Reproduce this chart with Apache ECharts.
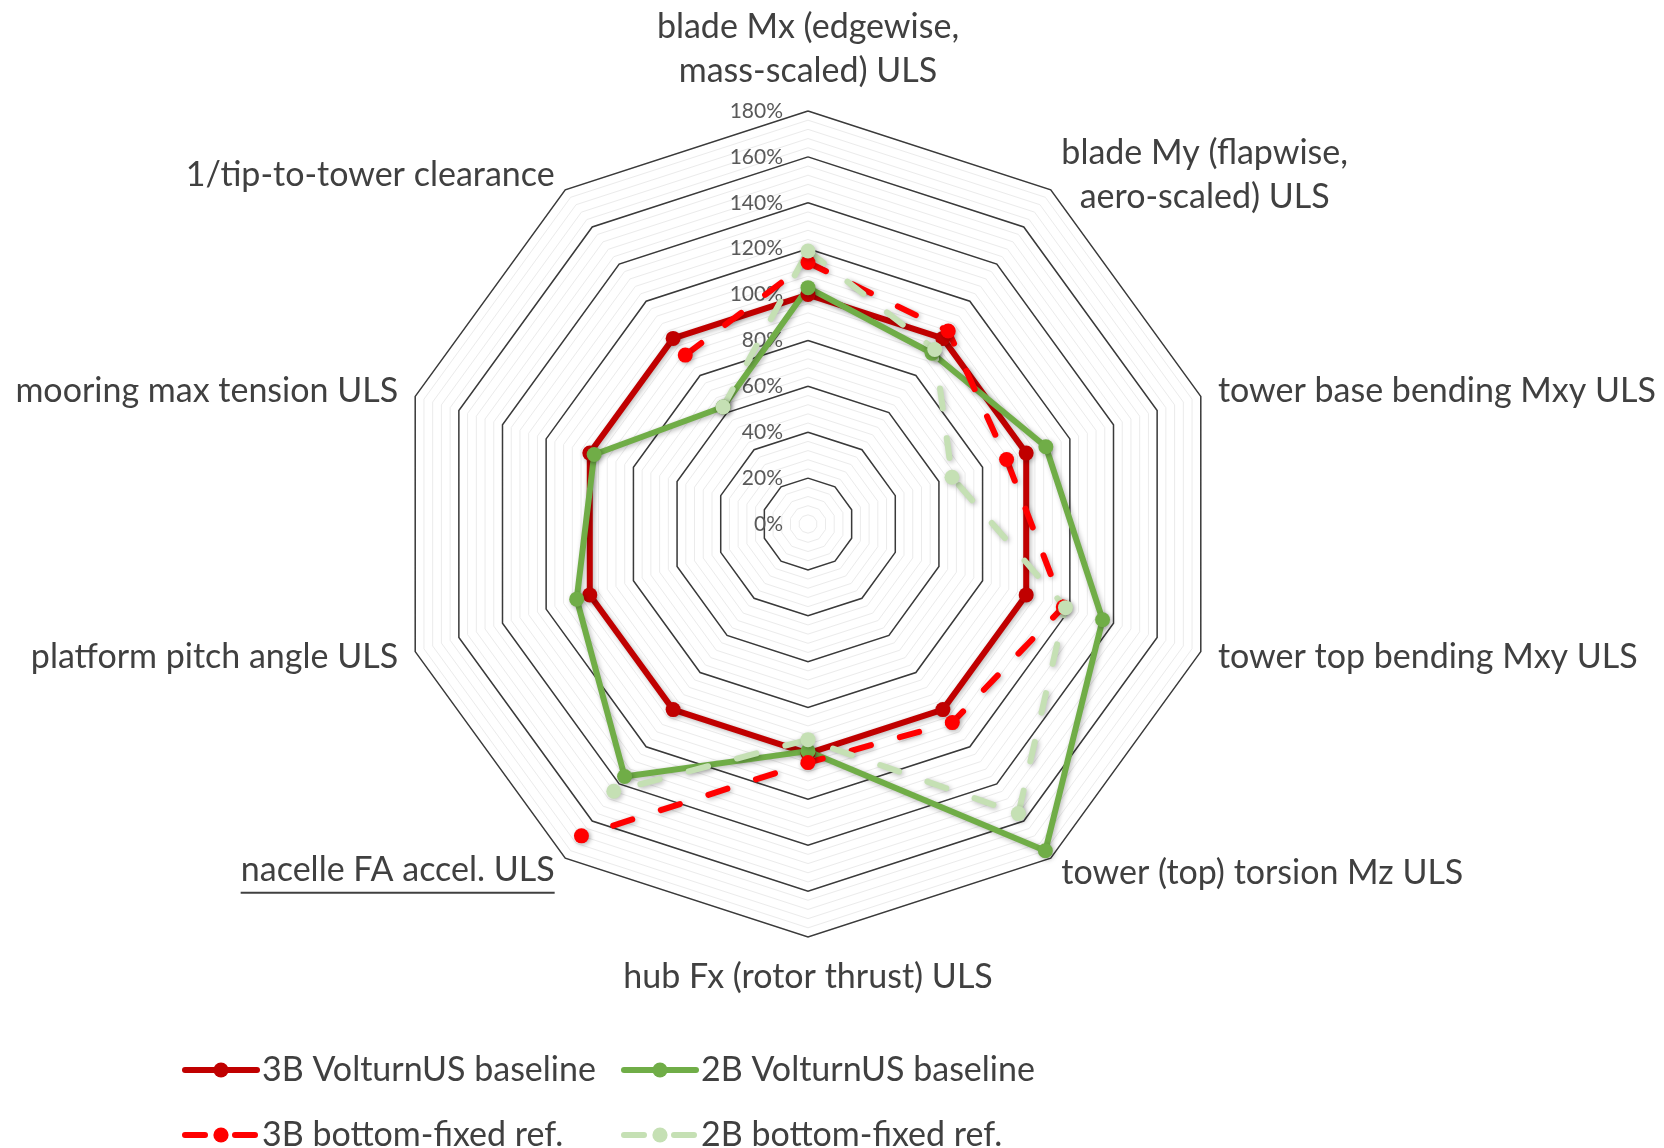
<!DOCTYPE html>
<html>
<head>
<meta charset="utf-8">
<script src="https://cdn.jsdelivr.net/npm/echarts@6/dist/echarts.min.js"></script>
<style>
  html, body { margin: 0; padding: 0; background: #ffffff; }
  #chart { width: 1664px; height: 1148px; }
</style>
</head>
<body>
<div id="chart"></div>
<script>
// Load cases, clockwise from the top of the web
const categories = [
  'blade Mx (edgewise,\nmass-scaled) ULS',
  'blade My (flapwise,\naero-scaled) ULS',
  'tower base bending Mxy ULS',
  'tower top bending Mxy ULS',
  'tower (top) torsion Mz ULS',
  'hub Fx (rotor thrust) ULS',
  'nacelle FA accel. ULS',
  'platform pitch angle ULS',
  'mooring max tension ULS',
  '1/tip-to-tower clearance'
];
const underlinedCategory = 'nacelle FA accel. ULS';

// Radial scale (percent of the 3B floating baseline)
const radialMin = 0;
const radialMax = 180;
const radialStep = 20;
const minorStep = 4;

// Series values in percent; null = not applicable (no floater)
const seriesNames = ['3B VolturnUS baseline', '2B VolturnUS baseline', '3B bottom-fixed ref.', '2B bottom-fixed ref.'];
const base3B  = [100, 100, 100, 100, 100, 100, 100, 100, 100, 100];
const base2B  = [103,  92, 109, 135, 176,  99, 136, 106,  98,  63];
const fixed3B = [114, 104,  91, 117, 107, 104, 168, null, null, 91];
const fixed2B = [119,  94,  66, 118, 156,  94, 144, null, null, 63];

const FONT = 'Lato';
const TEXT = '#404040';
const CX = 808, CY = 524, R = 413;

// radar indicators run counter-clockwise, so feed them in reverse after the first
const n = categories.length;
const order = [0].concat(Array.from({ length: n - 1 }, (_, k) => n - 1 - k));

// width of the underlined label, for the underline bar
const ctx = document.createElement('canvas').getContext('2d');
ctx.font = '34px ' + FONT;
const underlineWidth = Math.round(ctx.measureText(underlinedCategory).width);

function nameFormatter(name) {
  if (name === underlinedCategory) return '{t|' + name + '}\n{ul|}';
  return name.split('\n').map(s => '{c|' + s + '}').join('\n');
}

// polar points [radius, angleIndex]; the loop closes back on the first point
function ring(values) {
  const pts = values.map((v, i) => [v == null ? '-' : v, i]);
  if (values[0] != null) pts.push({ value: [values[0], n], symbol: 'none' });
  return pts;
}

const shadow = { shadowColor: 'rgba(0,0,0,0.28)', shadowBlur: 5, shadowOffsetX: 1.5, shadowOffsetY: 1.5 };
const DASH = [20, 30];

function lineSeries(name, values, color, dashed) {
  return {
    name: name,
    type: 'line',
    coordinateSystem: 'polar',
    data: ring(values),
    symbol: 'circle',
    symbolSize: 15,
    showAllSymbol: true,
    connectNulls: false,
    smooth: false,
    clip: false,
    lineStyle: Object.assign({ color: color, width: 6, cap: 'round', type: dashed ? DASH : 'solid' }, shadow),
    itemStyle: Object.assign({ color: color }, shadow),
    emphasis: { disabled: true }
  };
}

// one legend block per entry, laid out as a 2 x 2 grid
const legendCols = [182, 621];
const legendRows = [1053, 1118];
const legendGrid = [[seriesNames[0], seriesNames[1]], [seriesNames[2], seriesNames[3]]];
const legends = [];
legendGrid.forEach((row, r) => row.forEach((name, c) => {
  const dashed = r === 1;
  legends.push({
    orient: 'horizontal', left: legendCols[c], top: legendRows[r],
    itemWidth: 72, itemHeight: 19, padding: 0,
    data: [name],
    lineStyle: { width: 6, cap: 'round', type: dashed ? DASH : 'solid' },
    textStyle: { fontSize: 34, color: TEXT, fontFamily: FONT },
    selectedMode: false
  });
}));

const chart = echarts.init(document.getElementById('chart'), null, { renderer: 'canvas' });

const option = {
  animation: false,
  backgroundColor: '#ffffff',
  textStyle: { fontFamily: FONT },
  radar: [
    { // fine rings
      center: [CX, CY], radius: R, startAngle: 90, shape: 'polygon',
      splitNumber: (radialMax - radialMin) / minorStep, z: 0, silent: true,
      indicator: order.map(() => ({ name: '', min: radialMin, max: radialMax })),
      axisName: { show: false },
      axisLine: { show: false }, axisTick: { show: false }, axisLabel: { show: false },
      splitLine: { lineStyle: { color: '#EBEBEB', width: 1 } },
      splitArea: { show: false }
    },
    { // main rings, labels and case names
      center: [CX, CY], radius: R, startAngle: 90, shape: 'polygon',
      splitNumber: (radialMax - radialMin) / radialStep, z: 1, nameGap: 18,
      indicator: order.map((k, j) => {
        const ind = { name: categories[k], min: radialMin, max: radialMax };
        if (j === 0) {
          ind.axisLabel = {
            show: true, formatter: '{value}%', color: '#595959',
            fontSize: 21, fontFamily: FONT, margin: 25
          };
        }
        return ind;
      }),
      axisName: {
        color: TEXT, fontSize: 34, fontFamily: FONT,
        formatter: nameFormatter,
        rich: {
          c: { align: 'center', color: TEXT, fontSize: 34, fontFamily: FONT, lineHeight: 44 },
          t: { color: TEXT, fontSize: 34, fontFamily: FONT, lineHeight: 40 },
          ul: { width: underlineWidth, height: 2, lineHeight: 6, backgroundColor: TEXT }
        }
      },
      axisLine: { show: false }, axisTick: { show: false },
      splitLine: { lineStyle: { color: '#3A3A3A', width: 1.5 } },
      splitArea: { show: false }
    }
  ],
  polar: { center: [CX, CY], radius: R },
  angleAxis: { type: 'value', min: 0, max: n, startAngle: 90, clockwise: true, show: false },
  radiusAxis: { type: 'value', min: radialMin, max: radialMax, show: false },
  legend: legends,
  series: [
    lineSeries(seriesNames[0], base3B, '#C00000', false),
    lineSeries(seriesNames[1], base2B, '#70AD47', false),
    lineSeries(seriesNames[2], fixed3B, '#FF0000', true),
    lineSeries(seriesNames[3], fixed2B, '#C5E0B4', true)
  ]
};

chart.setOption(option);
</script>
</body>
</html>
